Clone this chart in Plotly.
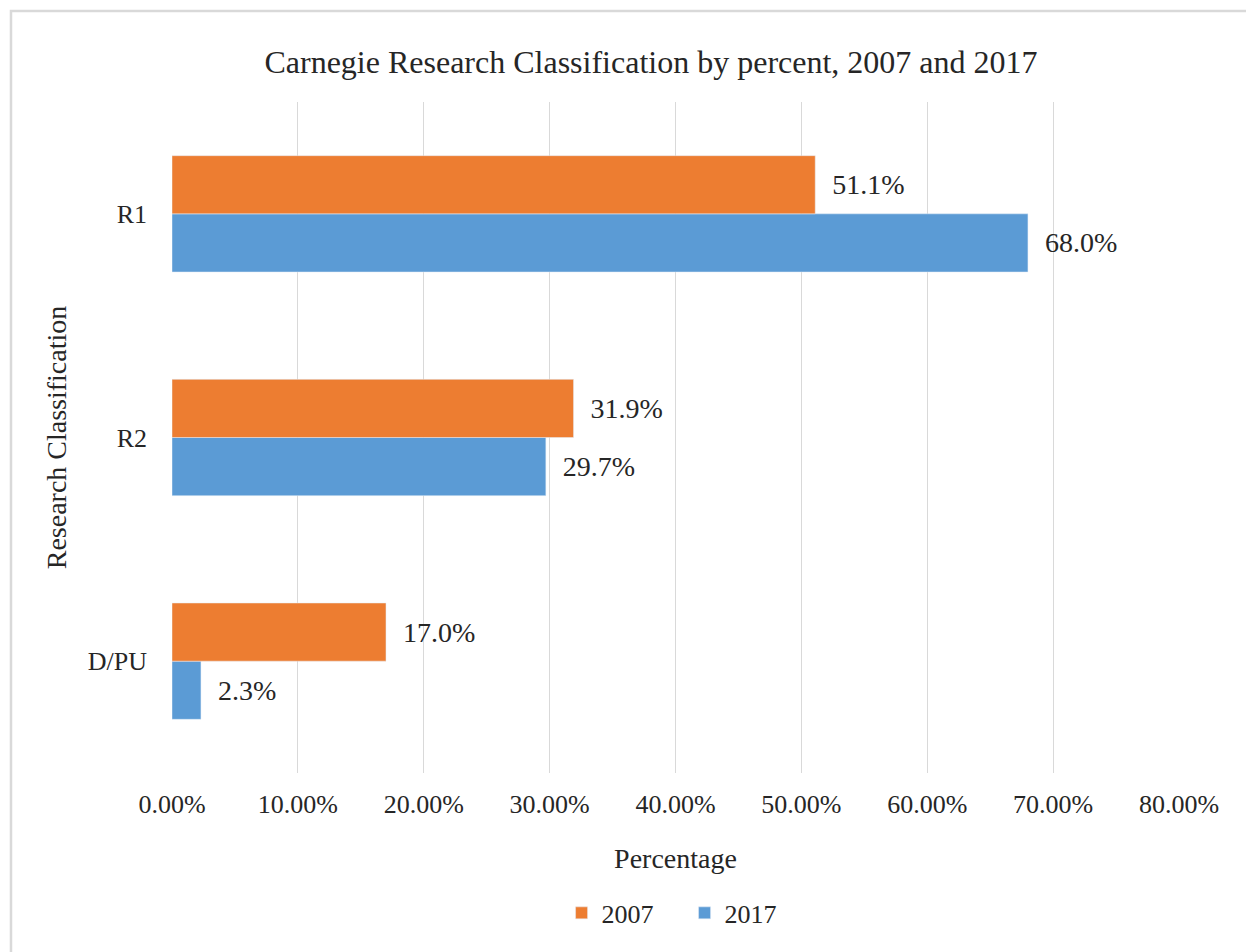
import plotly.graph_objects as go

# data
categories = ['D/PU', 'R2', 'R1']
share_2007 = [0.170, 0.319, 0.511]
share_2017 = [0.023, 0.297, 0.680]
x_ticks = [0.0, 0.1, 0.2, 0.3, 0.4, 0.5, 0.6, 0.7, 0.8]

ORANGE = '#ED7D31'
BLUE = '#5B9BD5'
GRID = '#D9D9D9'
FONT = 'Liberation Serif, Times New Roman, serif'

fig = go.Figure()

# 2017 first so it sits below 2007 inside each group
fig.add_trace(go.Bar(
    y=categories, x=share_2017, name='2017', orientation='h',
    marker=dict(color=BLUE),
    texttemplate='\u00a0\u00a0%{x:.1%}', textposition='outside',
    textfont=dict(size=28, color='#262626', family=FONT),
    cliponaxis=False,
))
fig.add_trace(go.Bar(
    y=categories, x=share_2007, name='2007', orientation='h',
    marker=dict(color=ORANGE),
    texttemplate='\u00a0\u00a0%{x:.1%}', textposition='outside',
    textfont=dict(size=28, color='#262626', family=FONT),
    cliponaxis=False,
))

fig.update_layout(
    width=1246, height=952,
    paper_bgcolor='white', plot_bgcolor='white',
    font=dict(family=FONT, color='#262626', size=26),
    barmode='group', bargap=0.48, bargroupgap=0,
    margin=dict(l=172, r=67, t=102, b=179),
    title=dict(
        text='Carnegie Research Classification by percent, 2007 and 2017',
        x=651 / 1246, xanchor='center', xref='container',
        y=1 - 62 / 952, yanchor='middle', yref='container',
        font=dict(size=32, family=FONT, color='#262626'),
    ),
    legend=dict(
        orientation='h', traceorder='reversed',
        x=0.509, xanchor='center', y=-0.2086, yanchor='middle',
        font=dict(size=26, family=FONT),
        entrywidth=78,
    ),
    showlegend=True,
    shapes=[dict(
        type='rect', xref='paper', yref='paper',
        x0=-0.1599, x1=1.2, y0=-0.4, y1=1.1356,
        line=dict(color=GRID, width=2.5), layer='below',
    )],
)

fig.update_xaxes(
    range=[0, 0.8], tickvals=x_ticks, tickformat='.2%',
    showgrid=True, gridcolor=GRID, gridwidth=1,
    zeroline=False, showline=False,
    ticklabelstandoff=13,
    tickfont=dict(size=26),
    title=dict(text='Percentage', font=dict(size=28), standoff=30),
)
fig.update_yaxes(
    showgrid=False, zeroline=False, showline=False,
    ticklabelstandoff=24,
    tickfont=dict(size=26),
    title=dict(text='Research Classification', font=dict(size=28), standoff=12),
)

fig.write_html('out.html', config={'displayModeBar': False},
               post_script="document.body.style.margin='0';")
